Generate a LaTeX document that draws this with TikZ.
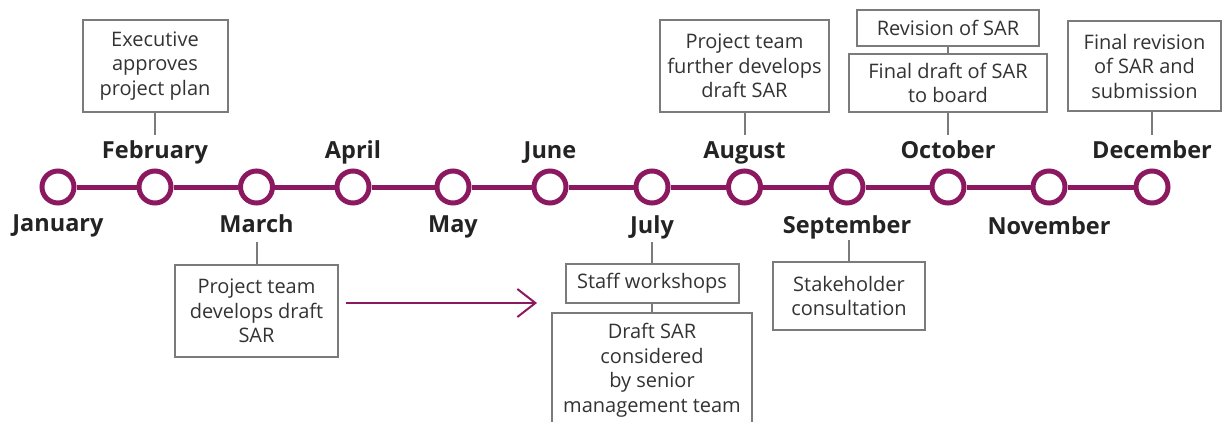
\documentclass[tikz,border=0pt]{standalone}
\usepackage{fontspec}
\setmainfont{Open Sans}
\usepackage{tikz}
\usetikzlibrary{arrows.meta}
\definecolor{plum}{RGB}{140,24,96}
\definecolor{boxgrey}{RGB}{122,124,124}
\definecolor{ink}{RGB}{51,51,51}
\definecolor{darkink}{RGB}{35,35,35}
\tikzstyle{month} = [circle, draw=plum, line width=5pt, fill=white,
minimum size=32pt, inner sep=0pt]
\tikzstyle{monthname} = [anchor=base, text=darkink, font=\bfseries\fontsize{23.5}{26}\selectfont]
\tikzstyle{block} = [rectangle, draw=boxgrey, line width=2pt, fill=white,
align=center, inner sep=0pt, text=ink, font=\fontsize{20}{24.5}\selectfont]
\tikzstyle{track} = [draw=plum, line width=5pt]
\tikzstyle{tick} = [draw=boxgrey, line width=2pt]
\tikzstyle{flow} = [draw=plum, line width=2pt, -{Straight Barb[length=18pt, width=28pt]}]

\begin{document}
\begin{tikzpicture}[x=1pt, y=-1pt]
	\useasboundingbox (0,0) rectangle (1224,421);
	\clip (0,0) rectangle (1224,421);
	
	\node [month] (jan) at (58,187) {};
	\node [month] (feb) at (155,187) {};
	\node [month] (mar) at (256.5,187) {};
	\node [month] (apr) at (353,187) {};
	\node [month] (may) at (453,187) {};
	\node [month] (jun) at (550,187) {};
	\node [month] (jul) at (652,187) {};
	\node [month] (aug) at (744.5,187) {};
	\node [month] (sep) at (847,187) {};
	\node [month] (oct) at (948,187) {};
	\node [month] (nov) at (1049,187) {};
	\node [month] (dec) at (1152,187) {};
	
	
	\path [track] (jan)--(feb);
	\path [track] (feb)--(mar);
	\path [track] (mar)--(apr);
	\path [track] (apr)--(may);
	\path [track] (may)--(jun);
	\path [track] (jun)--(jul);
	\path [track] (jul)--(aug);
	\path [track] (aug)--(sep);
	\path [track] (sep)--(oct);
	\path [track] (oct)--(nov);
	\path [track] (nov)--(dec);
	
	
	\node [monthname] (janname) at (58,231) {January};
	\node [monthname] (febname) at (155,158) {February};
	\node [monthname] (marname) at (256.5,232) {March};
	\node [monthname] (aprname) at (353,158) {April};
	\node [monthname] (mayname) at (453,232) {May};
	\node [monthname] (junname) at (550,158) {June};
	\node [monthname] (julname) at (652,233) {July};
	\node [monthname] (augname) at (744.5,158) {August};
	\node [monthname] (sepname) at (847,233) {September};
	\node [monthname] (octname) at (948,158) {October};
	\node [monthname] (novname) at (1049,234) {November};
	\node [monthname] (decname) at (1152,158) {December};
	
	
	\node [block, minimum width=145pt, minimum height=92pt] (approve) at (155,66) {Executive\\ approves\\ project plan};
	\node [block, minimum width=169pt, minimum height=92pt] (further) at (744.5,66) {Project team\\ further develops\\ draft SAR};
	\node [block, minimum width=182pt, minimum height=36pt] (revision) at (948,28) {Revision of SAR};
	\node [block, minimum width=198pt, minimum height=58pt] (finaldraft) at (948,83) {Final draft of SAR\\ to board};
	\node [block, minimum width=153pt, minimum height=90pt] (finalrev) at (1144.5,66) {Final revision\\ of SAR and\\ submission};
	
	\node [block, minimum width=163pt, minimum height=92pt] (develops) at (256.5,311) {Project team\\ develops draft\\ SAR};
	\node [block, minimum width=173pt, minimum height=39pt] (staff) at (652,283.5) {Staff workshops};
	\node [block, minimum width=200pt, minimum height=114pt] (draftsar) at (652,370) {Draft SAR\\ considered\\ by senior\\ management team};
	\node [block, minimum width=152pt, minimum height=68pt] (stake) at (849,296) {Stakeholder\\ consultation};
	
	
	\coordinate (febtick) at (155,135);
	\coordinate (augtick) at (744.5,135);
	\coordinate (octtick) at (948,135);
	\coordinate (dectick) at (1152,135);
	\coordinate (martick) at (256.5,242);
	\coordinate (jultick) at (652,242);
	\coordinate (septick) at (849,240);
	
	\path [tick] (approve)--(febtick);
	\path [tick] (further)--(augtick);
	\path [tick] (finaldraft)--(octtick);
	\path [tick] (finalrev.south -| dectick)--(dectick);
	\path [tick] (revision)--(finaldraft);
	
	\path [tick] (develops)--(martick);
	\path [tick] (staff)--(jultick);
	\path [tick] (stake)--(septick);
	\path [tick] (staff)--(draftsar);
	
	
	\coordinate (flowstart) at (346,303);
	\coordinate (flowend) at (537,303);
	\path [flow] (flowstart)--(flowend);
\end{tikzpicture}
\end{document}
